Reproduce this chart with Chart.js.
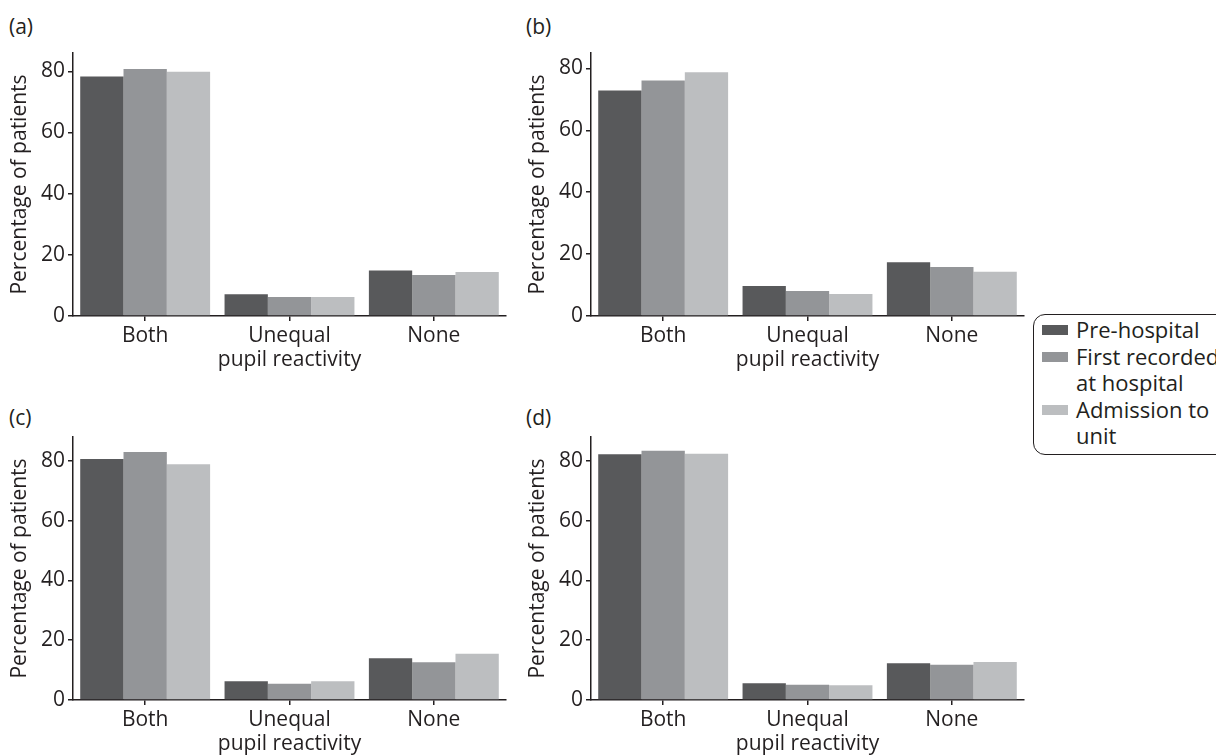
<!DOCTYPE html>
<html>
<head>
<meta charset="utf-8">
<script src="https://cdn.jsdelivr.net/npm/chart.js@4"></script>
<style>
  body { margin: 0; width: 1216px; height: 756px; overflow: hidden; background: #fff; font-family: "Open Sans", sans-serif; color: #231f20; position: relative; }
  .panel { position: absolute; }
  .tag { position: absolute; font-size: 21px; }
  .legend { position: absolute; left: 1033px; top: 314px; width: 220px; height: 138px; border: 1.5px solid #231f20; border-radius: 12px; font-size: 22px; line-height: 26.5px; }
  .legend div { position: relative; padding-left: 42px; }
  .legend span { position: absolute; left: 8px; top: 9px; width: 26px; height: 10px; }
</style>
</head>
<body>
<div class="tag" style="left:9px;top:12px">(a)</div>
<div class="tag" style="left:526px;top:12px">(b)</div>
<div class="tag" style="left:9px;top:403px">(c)</div>
<div class="tag" style="left:526px;top:403px">(d)</div>

<div class="panel" style="left:0;top:0"><canvas id="chartA" width="512" height="380"></canvas></div>
<div class="panel" style="left:518px;top:0"><canvas id="chartB" width="512" height="380"></canvas></div>
<div class="panel" style="left:0;top:384px"><canvas id="chartC" width="512" height="372"></canvas></div>
<div class="panel" style="left:518px;top:384px"><canvas id="chartD" width="512" height="372"></canvas></div>

<div class="legend" id="legend" style="padding-top:1px"></div>

<script>
const categories = ['Both', ['Unequal', 'pupil reactivity'], 'None'];
const seriesNames = ['Pre-hospital', 'First recorded at hospital', 'Admission to unit'];
const colours = ['#58595b', '#939598', '#bcbec0'];
const yTicks = [0, 20, 40, 60, 80];

// (a)
const preA = [78.3, 7.1, 14.9];
const firstA = [80.8, 6.2, 13.4];
const admA = [79.9, 6.2, 14.4];
// (b)
const preB = [72.9, 9.7, 17.4];
const firstB = [76.1, 8.1, 15.8];
const admB = [78.8, 7.1, 14.3];
// (c)
const preC = [80.6, 6.3, 14.0];
const firstC = [83.0, 5.4, 12.6];
const admC = [78.9, 6.3, 15.5];
// (d)
const preD = [82.2, 5.6, 12.3];
const firstD = [83.4, 5.1, 11.8];
const admD = [82.4, 4.9, 12.7];

const ink = '#231f20';
const font = { family: '"Open Sans", sans-serif', size: 21 };

function makeChart(id, series, yMax, xHeight) {
  new Chart(document.getElementById(id), {
    type: 'bar',
    data: {
      labels: categories,
      datasets: series.map((vals, i) => ({
        label: seriesNames[i],
        data: vals,
        backgroundColor: colours[i],
        borderWidth: 0,
        barPercentage: 1,
        categoryPercentage: 0.9
      }))
    },
    options: {
      responsive: false,
      animation: false,
      layout: { padding: { top: 53, right: 6, left: 0, bottom: 0 } },
      plugins: { legend: { display: false }, tooltip: { enabled: false } },
      scales: {
        x: {
          afterFit: s => { s.height = xHeight; },
          grid: { display: true, drawOnChartArea: false, offset: false, tickLength: 5, color: ink, lineWidth: 1.5 },
          border: { color: ink, width: 1.5 },
          ticks: { color: ink, font: Object.assign({ lineHeight: 1.15 }, font), padding: 3, maxRotation: 0, autoSkip: false }
        },
        y: {
          min: 0,
          max: yMax,
          afterFit: s => { s.width = 73; },
          afterBuildTicks: s => { s.ticks = yTicks.map(v => ({ value: v })); },
          grid: { display: true, drawOnChartArea: false, tickLength: 5, color: ink, lineWidth: 1.5 },
          border: { color: ink, width: 1.5 },
          ticks: { color: ink, font: font, padding: 3 },
          title: { display: true, text: 'Percentage of patients', color: ink, font: font, padding: { top: 7, bottom: 0 } }
        }
      }
    }
  });
}

makeChart('chartA', [preA, firstA, admA], 86, 64);
makeChart('chartB', [preB, firstB, admB], 85, 64);
makeChart('chartC', [preC, firstC, admC], 88, 56);
makeChart('chartD', [preD, firstD, admD], 88, 56);

// legend box (text wraps like the original)
const legendLines = [['Pre-hospital'], ['First recorded', 'at hospital'], ['Admission to', 'unit']];
const legend = document.getElementById('legend');
legendLines.forEach((lines, i) => {
  lines.forEach((t, j) => {
    const row = document.createElement('div');
    row.textContent = t;
    if (j === 0) {
      const sw = document.createElement('span');
      sw.style.background = colours[i];
      row.appendChild(sw);
    }
    legend.appendChild(row);
  });
});
</script>
</body>
</html>
